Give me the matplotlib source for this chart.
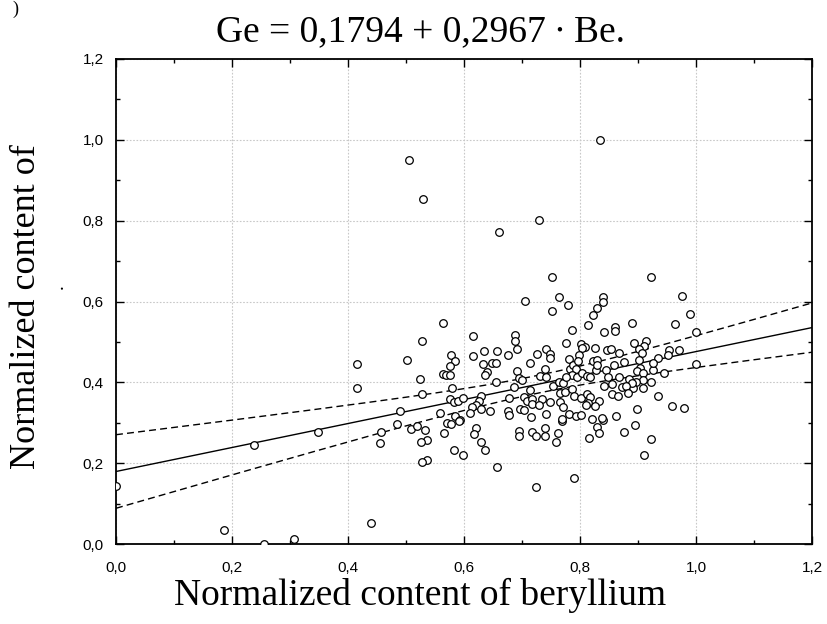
import numpy as np
import matplotlib
matplotlib.use("Agg")
import matplotlib.pyplot as plt
from matplotlib.ticker import MultipleLocator, FixedLocator, FixedFormatter

# ---- data ----
be = [0.000, 0.187, 0.256, 0.307, 0.238, 0.348, 0.439, 0.416, 0.416, 0.506,
      0.530, 0.660, 0.730, 0.834, 0.752, 0.922, 0.706, 0.764, 0.780, 0.751,
      0.840, 0.840, 0.829, 0.976, 0.989, 0.964, 0.889, 1.000, 1.000, 0.822,
      0.813, 0.861, 0.860, 0.842, 0.786, 0.688, 0.688, 0.564, 0.615, 0.528,
      0.502, 0.578, 0.584, 0.575, 0.563, 0.569, 0.575, 0.524, 0.615, 0.635,
      0.657, 0.633, 0.649, 0.656, 0.639, 0.637, 0.655, 0.580, 0.528, 0.575,
      0.582, 0.589, 0.598, 0.629, 0.625, 0.621, 0.613, 0.630, 0.610, 0.644,
      0.490, 0.559, 0.584, 0.593, 0.570, 0.578, 0.484, 0.509, 0.519, 0.533,
      0.457, 0.455, 0.566, 0.621, 0.617, 0.537, 0.526, 0.536, 0.528, 0.592,
      0.582, 0.599, 0.629, 0.637, 0.657, 0.694, 0.694, 0.717, 0.724, 0.740,
      0.740, 0.762, 0.758, 0.769, 0.724, 0.789, 0.816, 0.829, 0.832, 0.895,
      0.875, 0.922, 0.911, 0.839,
      0.971, 0.953, 0.951, 0.934, 0.944, 0.926, 0.925, 0.893, 0.913, 0.911,
      0.902, 0.907, 0.902, 0.904, 0.898, 0.909, 0.909, 0.922, 0.897, 0.892,
      0.909, 0.934, 0.958, 0.980, 0.898,
      0.801, 0.809, 0.803, 0.826, 0.775, 0.675, 0.691, 0.726, 0.741, 0.748,
      0.749, 0.847, 0.853, 0.868, 0.876, 0.798, 0.781, 0.822, 0.830, 0.713,
      0.740, 0.691, 0.694, 0.700, 0.686, 0.731, 0.741, 0.754, 0.763, 0.770,
      0.783, 0.788, 0.793, 0.797, 0.786, 0.776, 0.795, 0.803, 0.812, 0.817,
      0.827, 0.829, 0.844, 0.859, 0.867, 0.849, 0.885, 0.890, 0.856, 0.872,
      0.879, 0.841, 0.855, 0.866, 0.882, 0.766, 0.774, 0.786, 0.790, 0.802,
      0.812, 0.817, 0.832, 0.814, 0.810, 0.825, 0.704, 0.708, 0.717, 0.717,
      0.734, 0.748, 0.730, 0.714, 0.678, 0.765, 0.771, 0.781, 0.793, 0.801,
      0.696, 0.704, 0.716, 0.741, 0.676, 0.678, 0.769, 0.821, 0.838, 0.862]

ge = [0.144, 0.035, 0.000, 0.013, 0.246, 0.278, 0.051, 0.445, 0.387, 0.949,
      0.853, 0.773, 0.801, 1.000, 0.661, 0.661, 0.601, 0.611, 0.591, 0.577,
      0.611, 0.598, 0.584, 0.613, 0.569, 0.544, 0.546, 0.524, 0.445, 0.566,
      0.543, 0.537, 0.526, 0.524, 0.530, 0.518, 0.503, 0.546, 0.515, 0.502,
      0.456, 0.467, 0.453, 0.440, 0.421, 0.418, 0.418, 0.408, 0.464, 0.478,
      0.478, 0.445, 0.447, 0.448, 0.426, 0.418, 0.400, 0.386, 0.370, 0.359,
      0.351, 0.355, 0.362, 0.367, 0.355, 0.344, 0.340, 0.333, 0.325, 0.330,
      0.329, 0.325, 0.317, 0.307, 0.300, 0.296, 0.296, 0.284, 0.292, 0.281,
      0.276, 0.249, 0.274, 0.286, 0.272, 0.258, 0.252, 0.208, 0.204, 0.305,
      0.233, 0.220, 0.252, 0.233, 0.191, 0.280, 0.266, 0.276, 0.268, 0.288,
      0.268, 0.274, 0.252, 0.304, 0.140, 0.163, 0.263, 0.290, 0.274, 0.294,
      0.277, 0.260, 0.220, 0.307,
      0.479, 0.479, 0.467, 0.460, 0.422, 0.431, 0.447, 0.498, 0.502, 0.490,
      0.483, 0.472, 0.455, 0.436, 0.428, 0.422, 0.406, 0.402, 0.402, 0.385,
      0.387, 0.365, 0.342, 0.336, 0.333,
      0.494, 0.488, 0.486, 0.485, 0.498, 0.467, 0.483, 0.470, 0.483, 0.469,
      0.459, 0.479, 0.482, 0.472, 0.451, 0.467, 0.457, 0.454, 0.456, 0.448,
      0.434, 0.428, 0.410, 0.405, 0.389, 0.416, 0.413, 0.390, 0.402, 0.398,
      0.432, 0.443, 0.432, 0.452, 0.418, 0.413, 0.413, 0.424, 0.416, 0.413,
      0.431, 0.443, 0.431, 0.443, 0.414, 0.413, 0.408, 0.398, 0.396, 0.388,
      0.390, 0.390, 0.371, 0.366, 0.374, 0.373, 0.376, 0.384, 0.366, 0.361,
      0.370, 0.364, 0.355, 0.348, 0.344, 0.342, 0.363, 0.355, 0.358, 0.346,
      0.360, 0.352, 0.345, 0.381, 0.362, 0.351, 0.338, 0.321, 0.317, 0.318,
      0.333, 0.332, 0.315, 0.321, 0.329, 0.319, 0.309, 0.309, 0.311, 0.317]

# regression (from the title) and read confidence-band parameters
intercept = 0.1794
slope = 0.2967
band_center_x = 0.73
band_half_min = 0.022
band_half_at_0 = 0.091

x_ticks = [0.0, 0.2, 0.4, 0.6, 0.8, 1.0, 1.2]
x_tick_labels = ["0,0", "0,2", "0,4", "0,6", "0,8", "1,0", "1,2"]
y_ticks = [0.0, 0.2, 0.4, 0.6, 0.8, 1.0, 1.2]
y_tick_labels = ["0,0", "0,2", "0,4", "0,6", "0,8", "1,0", "1,2"]

title = "Ge = 0,1794 + 0,2967 \u2219 Be."
xlabel = "Normalized content of beryllium"
ylabel = "Normalized content of"

# ---- figure ----
W, H = 827, 624
fig = plt.figure(figsize=(W / 100, H / 100), dpi=100)
ax = fig.add_axes([116 / W, 1 - 544 / H, (812 - 116) / W, (544 - 59) / H])

ax.set_xlim(0, 1.2)
ax.set_ylim(0, 1.2)

ax.grid(True, which="major", color="#c8c8c8", linestyle=(0, (1.5, 1.5)), linewidth=0.8)
ax.set_axisbelow(True)

xs = np.linspace(0, 1.2, 200)
fit = intercept + slope * xs
b = (band_half_at_0 ** 2 - band_half_min ** 2) / band_center_x ** 2
half = np.sqrt(band_half_min ** 2 + b * (xs - band_center_x) ** 2)
ax.plot(xs, fit, color="black", linewidth=1.0, zorder=2)
ax.plot(xs, fit + half, color="black", linewidth=1.0, linestyle=(0, (5, 3)), zorder=2)
ax.plot(xs, fit - half, color="black", linewidth=1.0, linestyle=(0, (5, 3)), zorder=2)

ax.scatter(be, ge, s=30, facecolors="white", edgecolors="black", linewidths=0.9, zorder=3)

ax.xaxis.set_major_locator(FixedLocator(x_ticks))
ax.xaxis.set_major_formatter(FixedFormatter(x_tick_labels))
ax.yaxis.set_major_locator(FixedLocator(y_ticks))
ax.yaxis.set_major_formatter(FixedFormatter(y_tick_labels))
ax.xaxis.set_minor_locator(MultipleLocator(0.1))
ax.yaxis.set_minor_locator(MultipleLocator(0.1))
ax.tick_params(which="both", direction="in", top=True, right=True, colors="black",
               labelsize=11, width=1.0)
ax.tick_params(which="major", length=6)
ax.tick_params(which="minor", length=3)
ax.tick_params(axis="x", pad=12)
ax.tick_params(axis="y", pad=9)
for lbl in ax.get_xticklabels() + ax.get_yticklabels():
    lbl.set_fontfamily(["Liberation Sans", "DejaVu Sans"])
for s in ax.spines.values():
    s.set_linewidth(1.3)
    s.set_color("black")

serif = ["Liberation Serif", "DejaVu Serif"]
fig.text(420 / W, 1 - 32 / H, title, ha="center", va="center", fontsize=27,
         family=serif)
fig.text(420 / W, 1 - 595 / H, xlabel, ha="center", va="center", fontsize=27,
         family=serif)
fig.text(27 / W, 1 - 307 / H, ylabel, ha="center", va="center", fontsize=26,
         family=serif, rotation=90)
fig.text(58 / W, 1 - 287 / H, ".", ha="center", va="center", fontsize=14,
         family=serif, rotation=90)
fig.text(15 / W, 1 - 1 / H, ")", ha="center", va="top", fontsize=13,
         family=serif)

fig.savefig("out.png", dpi=100)
